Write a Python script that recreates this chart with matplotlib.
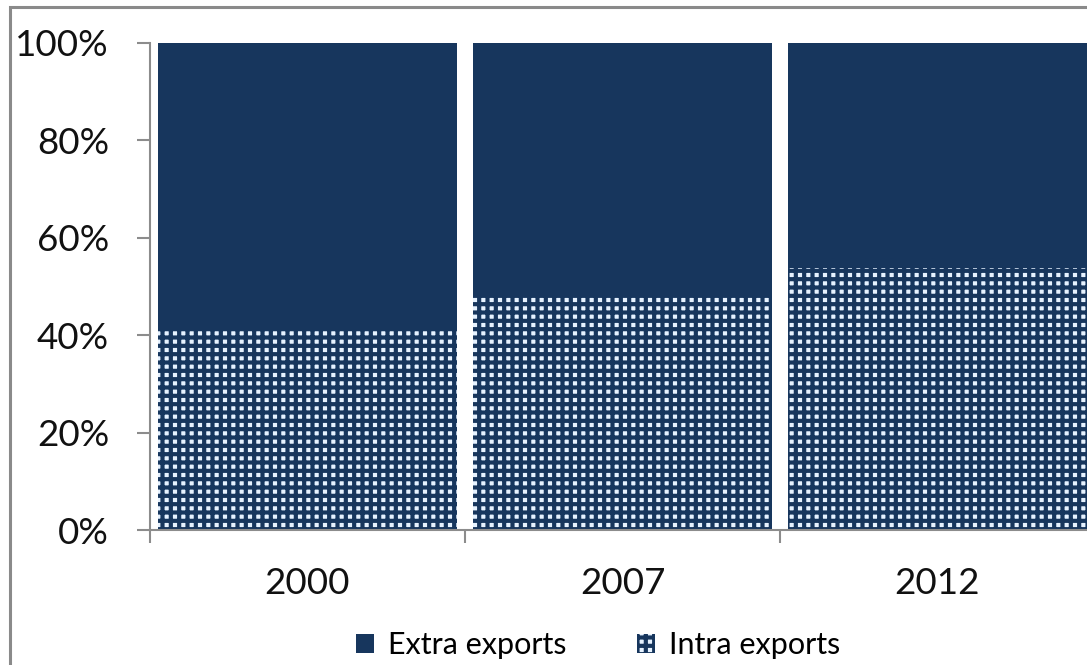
"""Share of intra and extra exports, stacked 100% columns."""

import matplotlib
import numpy as np

matplotlib.use("Agg")
import matplotlib.pyplot as plt
from matplotlib.patches import Rectangle

years = ["2000", "2007", "2012"]
intra_share = [41.5, 48.2, 53.7]
extra_share = [100 - v for v in intra_share]
y_ticks = [0, 20, 40, 60, 80, 100]

NAVY = "#17365d"
DOTS = "#e6f2ff"
AXIS_GRAY = "#8c8c8c"

plt.rcParams["font.family"] = ["Lato", "DejaVu Sans"]
plt.rcParams["hatch.linewidth"] = 3.0

W, H = 1087, 665
fig = plt.figure(figsize=(W / 100, H / 100), dpi=100)
ax = fig.add_axes([150 / W, (H - 530) / H, 945 / W, 487 / H])

x = np.arange(len(years))
ax.bar(x, intra_share, width=0.952, color=DOTS, edgecolor=NAVY, hatch="++",
       linewidth=0, label="Intra exports")
ax.bar(x, extra_share, width=0.952, bottom=intra_share, color=NAVY,
       linewidth=0, label="Extra exports")

ax.set_xlim(-0.5, len(years) - 0.5)
ax.set_ylim(0, 100)
ax.set_yticks(y_ticks)
ax.set_yticklabels([f"{v}%" for v in y_ticks])
ax.set_xticks(x)
ax.set_xticklabels(years)
ax.set_xticks(np.arange(-0.5, len(years)), minor=True)

for side in ("top", "right"):
    ax.spines[side].set_visible(False)
for side in ("left", "bottom"):
    ax.spines[side].set_color(AXIS_GRAY)
    ax.spines[side].set_linewidth(1.5)

ax.tick_params(axis="y", length=9.5, width=1.5, color=AXIS_GRAY, labelsize=26.5,
               pad=20, labelcolor="#111111")
ax.tick_params(axis="x", which="major", length=0, labelsize=26.5, pad=27,
               labelcolor="#111111")
ax.tick_params(axis="x", which="minor", length=9.5, width=1.5, color=AXIS_GRAY)

handles, labels = ax.get_legend_handles_labels()
leg = fig.legend(handles[::-1], labels[::-1], loc="center", ncol=2,
                 bbox_to_anchor=(598 / W, 20 / H), frameon=False, fontsize=22,
                 handlelength=0.6, handleheight=0.6, handletextpad=0.45,
                 columnspacing=2.3)

# outer chart-area frame, cut off at the right and bottom
fig.patches.append(Rectangle((10 / W, -0.1), 2.0, (H - 7) / H + 0.1,
                             transform=fig.transFigure, fill=False,
                             edgecolor="#8a8a8a", linewidth=2.2))

fig.savefig("out.png", dpi=100)
plt.close(fig)
